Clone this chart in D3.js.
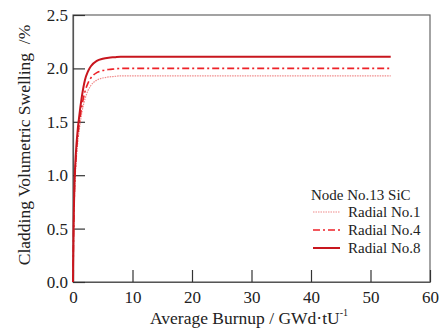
<!DOCTYPE html>
<meta charset="utf-8">
<style>
body { margin: 0; background: #fff; }
</style>
<svg width="439" height="331"></svg>
<script src="https://d3js.org/d3.v7.min.js"></script>
<script>

var burnup = [0, 0.1, 0.25, 0.5, 0.75, 1, 1.5, 2, 2.5, 3, 4, 5, 6, 7, 8, 10, 20, 30, 40, 50, 53.4];
var radial1 = [0, 0.45, 0.82, 1.10, 1.28, 1.40, 1.59, 1.71, 1.79, 1.84, 1.89, 1.91, 1.92, 1.925, 1.93, 1.93, 1.93, 1.93, 1.93, 1.93, 1.93];
var radial4 = [0, 0.48, 0.87, 1.16, 1.34, 1.46, 1.65, 1.78, 1.86, 1.91, 1.96, 1.98, 1.99, 1.995, 2.0, 2.0, 2.0, 2.0, 2.0, 2.0, 2.0];
var radial8 = [0, 0.52, 0.92, 1.22, 1.40, 1.53, 1.74, 1.89, 1.97, 2.02, 2.07, 2.09, 2.10, 2.105, 2.11, 2.11, 2.11, 2.11, 2.11, 2.11, 2.11];
var xTicks = [0, 10, 20, 30, 40, 50, 60];
var yTicks = [0, 0.5, 1.0, 1.5, 2.0, 2.5];

var series = [
  {name: "Radial No.1", values: radial1, color: "#f08a8a", width: 1.2, dash: "1.5,1"},
  {name: "Radial No.4", values: radial4, color: "#ee2228", width: 1.6, dash: "7,3,2,3"},
  {name: "Radial No.8", values: radial8, color: "#c8161e", width: 2, dash: null}
];

var serif = "Liberation Serif";

var svg = d3.select("svg"),
    margin = {left: 73, right: 9, top: 15, bottom: 49},
    width = 439 - margin.left - margin.right,
    height = 331 - margin.top - margin.bottom;

var x = d3.scaleLinear().domain([0, 60]).range([0, width]);
var y = d3.scaleLinear().domain([0, 2.5]).range([height, 0]);

var g = svg.append("g").attr("transform", "translate(" + margin.left + "," + margin.top + ")");

// frame
g.append("rect")
    .attr("width", width).attr("height", height)
    .attr("fill", "none").attr("stroke", "#666").attr("stroke-width", 1.2);

var xAxis = g.append("g")
    .attr("transform", "translate(0," + height + ")")
    .call(d3.axisBottom(x).tickValues(xTicks).tickSizeInner(-12).tickSizeOuter(0).tickPadding(7));
var yAxis = g.append("g")
    .call(d3.axisLeft(y).tickValues(yTicks).tickFormat(d3.format(".1f")).tickSizeInner(-12).tickSizeOuter(0).tickPadding(5));

[xAxis, yAxis].forEach(function(a) {
  a.attr("font-family", serif).attr("font-size", 17);
  a.select(".domain").attr("stroke", "#555").attr("stroke-width", 1.2);
  a.selectAll(".tick line").attr("stroke", "#333").attr("stroke-width", 1.2);
  a.selectAll(".tick text").attr("fill", "#222");
});
xAxis.selectAll(".tick text").attr("dy", "0.85em");

var line = d3.line()
    .x(function(d, i) { return x(burnup[i]); })
    .y(function(d) { return y(d); })
    .curve(d3.curveMonotoneX);

g.selectAll(".series")
  .data(series)
  .enter().append("path")
    .attr("fill", "none")
    .attr("stroke", function(d) { return d.color; })
    .attr("stroke-width", function(d) { return d.width; })
    .attr("stroke-dasharray", function(d) { return d.dash; })
    .attr("d", function(d) { return line(d.values); });

// legend
var leg = svg.append("g").attr("transform", "translate(311,0)")
    .attr("font-family", serif).attr("font-size", 15).attr("fill", "#222");
leg.append("text").attr("x", 0).attr("y", 200).text("Node No.13 SiC");
series.forEach(function(s, i) {
  var cy = 212 + i * 18;
  leg.append("line")
      .attr("x1", 2).attr("x2", 29).attr("y1", cy).attr("y2", cy)
      .attr("stroke", s.color).attr("stroke-width", s.width)
      .attr("stroke-dasharray", s.dash);
  leg.append("text").attr("x", 37).attr("y", cy + 5).text(s.name);
});

// axis titles
var xt = svg.append("text")
    .attr("x", 249).attr("y", 324)
    .attr("text-anchor", "middle")
    .attr("font-family", serif).attr("font-size", 17.5).attr("fill", "#222")
    .text("Average Burnup / GWd\u00b7tU");
xt.append("tspan").attr("dy", -8).attr("font-size", 10).text("-1");

svg.append("text")
    .attr("transform", "translate(30,145) rotate(-90)")
    .attr("text-anchor", "middle")
    .attr("font-family", serif).attr("font-size", 17.5).attr("fill", "#222")
    .text("Cladding Volumetric Swelling\u00a0\u00a0/%");

</script>
